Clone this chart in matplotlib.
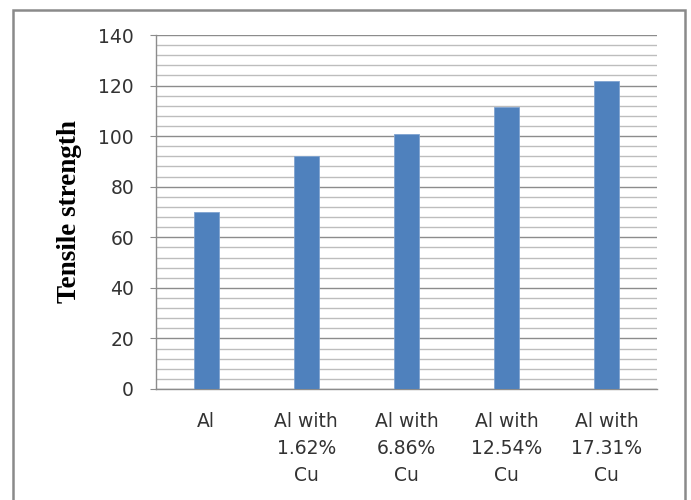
import matplotlib
matplotlib.use("Agg")
import matplotlib.pyplot as plt
from matplotlib.patches import Rectangle
from matplotlib.ticker import MultipleLocator

categories = ["Al", "Al with\n1.62%\nCu", "Al with\n6.86%\nCu", "Al with\n12.54%\nCu", "Al with\n17.31%\nCu"]
tensile_strength = [70, 92, 101, 111.5, 122]
y_ticks = [0, 20, 40, 60, 80, 100, 120, 140]

TICK_FONT = "DejaVu Sans"
TICK_SIZE = 13.5

fig = plt.figure(figsize=(6.91, 5.0), dpi=100)
fig.patch.set_facecolor("white")

# outer chart frame
frame = Rectangle((13 / 691, -0.05), (685 - 13) / 691, 0.98 + 0.05,
                  transform=fig.transFigure, fill=False,
                  edgecolor="#8a8a8a", linewidth=1.8, zorder=0)
fig.patches.append(frame)

ax = fig.add_axes([156 / 691, 111 / 500, (657 - 156) / 691, (389 - 35) / 500])

x = list(range(len(categories)))
ax.bar(x, tensile_strength, width=0.25, color="#4F81BD",
       edgecolor="#7fa3d0", linewidth=0.6, zorder=3)

ax.set_xlim(-0.5, len(categories) - 0.5)
ax.set_ylim(0, 140)
ax.set_yticks(y_ticks)
ax.yaxis.set_minor_locator(MultipleLocator(4))

ax.grid(axis="y", which="major", color="#8c8c8c", linewidth=1.0, zorder=0)
ax.grid(axis="y", which="minor", color="#bdbdbd", linewidth=1.0, zorder=0)
ax.set_axisbelow(True)

for side in ["top", "right"]:
    ax.spines[side].set_visible(False)
ax.spines["left"].set_color("#8c8c8c")
ax.spines["bottom"].set_color("#8c8c8c")
ax.spines["left"].set_linewidth(1.0)
ax.spines["bottom"].set_linewidth(1.0)

ax.set_xticks(x)
ax.set_xticklabels(categories, fontfamily=TICK_FONT, fontsize=TICK_SIZE,
                   color="#333333", linespacing=1.52)
ax.tick_params(axis="x", length=0, pad=16.5)
ax.tick_params(axis="y", which="major", length=4.3, color="#8c8c8c",
               labelsize=TICK_SIZE, labelcolor="#333333", pad=11.5)
ax.tick_params(axis="y", which="minor", length=0)
for lbl in ax.get_yticklabels():
    lbl.set_fontfamily(TICK_FONT)

fig.text(70 / 691, 1 - 212 / 500, "Tensile strength", rotation=90,
         ha="center", va="center", fontfamily="Liberation Serif",
         fontweight="bold", fontsize=19.5)

fig.savefig("out.png", dpi=100, facecolor="white")
